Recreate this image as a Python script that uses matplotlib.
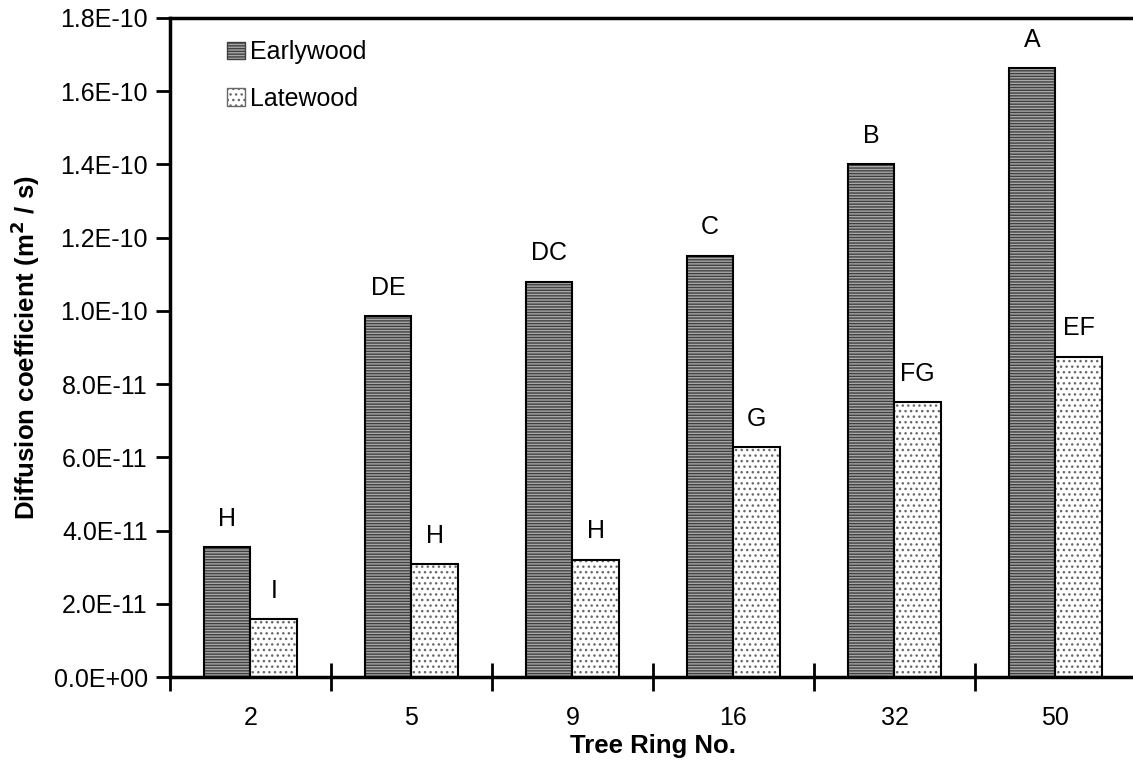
import numpy as np
import matplotlib.pyplot as plt
from matplotlib.patches import Patch
from matplotlib.ticker import FuncFormatter

plt.rcParams['font.family'] = ['Liberation Sans', 'DejaVu Sans']
plt.rcParams['hatch.linewidth'] = 1.0

rings = ['2', '5', '9', '16', '32', '50']
earlywood = [3.55e-11, 9.85e-11, 10.8e-11, 11.5e-11, 14.0e-11, 16.63e-11]
latewood = [1.58e-11, 3.08e-11, 3.2e-11, 6.27e-11, 7.5e-11, 8.75e-11]
early_letters = ['H', 'DE', 'DC', 'C', 'B', 'A']
late_letters = ['I', 'H', 'H', 'G', 'FG', 'EF']

fig = plt.figure(figsize=(11.33, 7.65), dpi=100)
ax = fig.add_axes([0.150, 0.115, 0.8526, 0.8615])

x = np.arange(len(rings))
w = 0.29

def hatched_bars(xpos, vals, face, hatch, hcolor):
    ax.bar(xpos, vals, w, color=face, edgecolor=hcolor, hatch=hatch, linewidth=0, zorder=2)
    ax.bar(xpos, vals, w, fill=False, edgecolor='black', linewidth=1.5, zorder=3)

hatched_bars(x - w / 2, earlywood, '#a8a8a8', '------', '#404040')
hatched_bars(x + w / 2, latewood, 'white', '...', '#686868')

for xi, v, t in zip(x - w / 2, earlywood, early_letters):
    ax.text(xi, v + 0.45e-11, t, ha='center', va='bottom', fontsize=18)
for xi, v, t in zip(x + w / 2, latewood, late_letters):
    ax.text(xi, v + 0.45e-11, t, ha='center', va='bottom', fontsize=18)

ax.set_xlim(-0.5, len(rings) - 0.5)
ax.set_ylim(0, 1.8e-10)
ax.set_yticks(np.arange(0, 1.81e-10, 2e-11))
ax.yaxis.set_major_formatter(FuncFormatter(lambda v, p: '%.1E' % v))
ax.set_xticks(x)
ax.set_xticklabels(rings)
ax.set_xticks(np.arange(-0.5, len(rings), 1.0), minor=True)
ax.tick_params(axis='x', which='major', length=0, pad=21, labelsize=18)
ax.tick_params(axis='x', which='minor', direction='inout', length=20, width=2)
ax.tick_params(axis='y', which='major', direction='out', length=10, width=2, labelsize=18, pad=6)

for s in ['left', 'bottom', 'top']:
    ax.spines[s].set_linewidth(2.5)
ax.spines['right'].set_visible(False)

ax.set_xlabel('Tree Ring No.', fontsize=18.5, fontweight='bold', labelpad=3)
ax.set_ylabel('Diffusion coefficient (m$^{\\mathbf{2}}$ / s)', fontsize=18.5, fontweight='bold', labelpad=8)

handles = [Patch(facecolor='#a8a8a8', edgecolor='#404040', hatch='------', label='Earlywood'),
           Patch(facecolor='white', edgecolor='#686868', hatch='...', label='Latewood')]
leg = ax.legend(handles=handles, loc='upper left', bbox_to_anchor=(0.036, 1.0), frameon=False,
                fontsize=18, handlelength=0.7, handleheight=0.7, handletextpad=0.2, labelspacing=0.9)

fig.savefig('out.png', dpi=100)
